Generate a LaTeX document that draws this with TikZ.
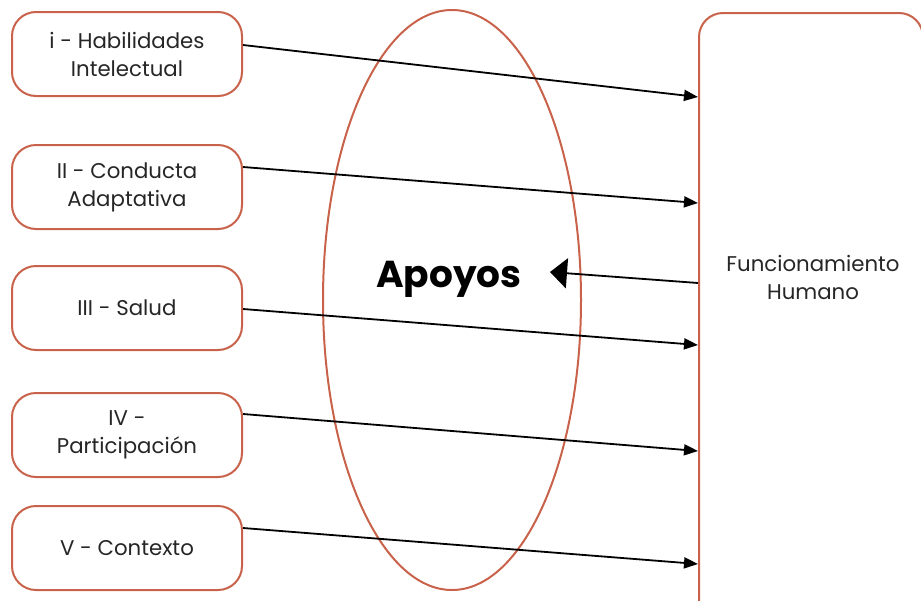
\documentclass[tikz,border=0pt]{standalone}
\usepackage{fontspec}
\setmainfont{Poppins}
\usetikzlibrary{arrows.meta}
\definecolor{boxline}{HTML}{C9624A}
\begin{document}
\begin{tikzpicture}[x=1pt,y=-1pt,
  item/.style={draw=boxline,line width=2pt,rounded corners=24pt,fill=white,
    minimum width=230pt,minimum height=84pt,align=center,font=\fontsize{21.3}{28}\selectfont,
    text=black!85,inner sep=0pt},
  link/.style={line width=1.8pt,-{Triangle[length=14pt,width=11pt]}},
  back/.style={line width=1.8pt,-{Triangle[length=17pt,width=30pt]}}]
\useasboundingbox (0,0) rectangle (921,600);
% support ellipse
\draw[boxline,line width=2pt] (452,300) ellipse [x radius=129,y radius=290];
% right frame (runs past the page edges)
\node[draw=boxline,line width=2pt,rounded corners=24pt,minimum width=224pt,
  minimum height=620pt,inner sep=0pt,anchor=north west] (fh) at (698,12) {};
\node[font=\fontsize{21.3}{28}\selectfont,align=center,text=black!85] (fhtext) at (813,277)
  {Funcionamiento\\Humano};
% dimension boxes
\node[item] (d1) at (127,54) {i - Habilidades\\Intelectual};
\node[item] (d2) at (127,187) {II - Conducta\\Adaptativa};
\node[item] (d3) at (127,308) {III - Salud};
\node[item] (d4) at (127,435) {IV -\\Participación};
\node[item] (d5) at (127,548) {V - Contexto};
% central label
\node[font=\fontsize{37.5}{40}\selectfont\bfseries] (ap) at (449,279) {Apoyos};
% arrow targets on the frame
\coordinate (t1) at (698,97);
\coordinate (t2) at (698,203);
\coordinate (t3) at (698,345);
\coordinate (t4) at (698,451);
\coordinate (t5) at (698,564);
\coordinate (s0) at (698,283);
\coordinate (a0) at (550,272);
\draw[link] (d1.east |- 0,45) -- (t1);
\draw[link] (d2.east |- 0,167) -- (t2);
\draw[link] (d3.east |- 0,309) -- (t3);
\draw[link] (d4.east |- 0,414) -- (t4);
\draw[link] (d5.east |- 0,528) -- (t5);
\draw[back] (s0) -- (a0);
\end{tikzpicture}
\end{document}
